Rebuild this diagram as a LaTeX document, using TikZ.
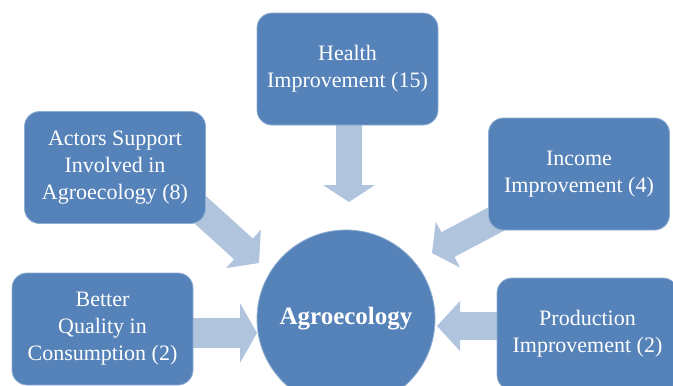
\documentclass[tikz,border=0pt]{standalone}
\usepackage{fontspec}
\setmainfont{Liberation Serif}
\usetikzlibrary{arrows.meta,backgrounds}
\definecolor{boxblue}{HTML}{5582B8}
\definecolor{boxedge}{HTML}{8FAED3}
\definecolor{arrowblue}{HTML}{B0C4DE}
\begin{document}
\begin{tikzpicture}[x=1pt,y=-1pt,
  box/.style={rectangle, rounded corners=15pt, fill=boxblue, draw=boxedge, line width=0.8pt,
    text=white, align=center, font=\fontsize{22}{27}\selectfont,
    minimum width=181pt, minimum height=112pt, inner sep=0pt},
  hub/.style={circle, fill=boxblue, draw=boxedge, line width=0.8pt, minimum size=178pt,
    inner sep=0pt, text=white, font=\fontsize{25}{29}\selectfont\bfseries},
  barrow/.style n args={3}{draw=arrowblue, line width=#1,
    -{Triangle[width=#2,length=#3,line width=0pt]}}]
\useasboundingbox (0,0) rectangle (673,386);
\clip (0,0) rectangle (673,386);

\node[box] (health) at (347.5,69) {Health\\Improvement (15)};
\node[box] (income) at (579,174) {Income\\Improvement (4)};
\node[box] (actors) at (115,167.5) {Actors Support\\Involved in\\Agroecology (8)};
\node[box] (better) at (102.5,329) {Better\\Quality in\\Consumption (2)};
\node[box] (prod) at (587.5,334) {Production\\Improvement (2)};
\node[hub] (agro) at (346,319) {Agroecology};

\coordinate (hT) at (349,202);
\coordinate (aS) at (195,205);
\coordinate (aT) at (259,263);
\coordinate (iS) at (500,217);
\coordinate (iT) at (432,253);
\coordinate (bT) at (257,333);
\coordinate (pT) at (437,326);

\begin{pgfonlayer}{background}
\fill[white] (0,0) rectangle (673,386);
\draw[barrow={26pt}{52pt}{17pt}] (health.south -| hT) -- (hT);
\draw[barrow={28pt}{52pt}{21pt}] (aS) -- (aT);
\draw[barrow={28pt}{52pt}{18pt}] (iS) -- (iT);
\draw[barrow={30pt}{60pt}{17pt}] (better.east |- bT) -- (bT);
\draw[barrow={28pt}{50pt}{23pt}] (prod.west |- pT) -- (pT);
\end{pgfonlayer}
\end{tikzpicture}
\end{document}
